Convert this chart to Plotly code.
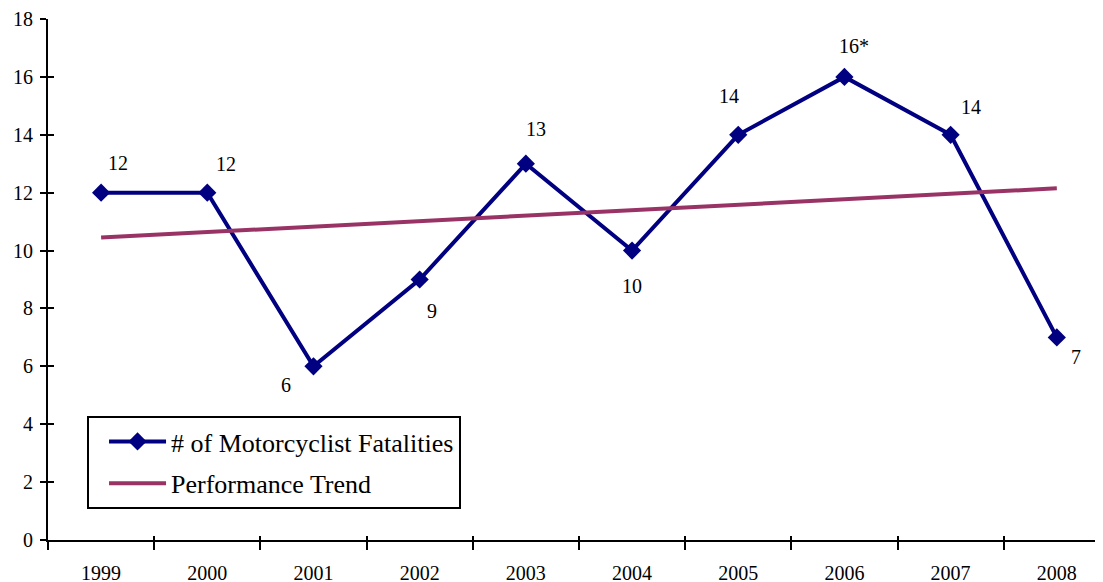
import plotly.graph_objects as go

years = ["1999", "2000", "2001", "2002", "2003", "2004", "2005", "2006", "2007", "2008"]
fatalities = [12, 12, 6, 9, 13, 10, 14, 16, 14, 7]
point_labels = ["12", "12", "6", "9", "13", "10", "14", "16*", "14", "7"]
trend_years = ["1999", "2008"]
trend_values = [10.45, 12.15]
y_ticks = [0, 2, 4, 6, 8, 10, 12, 14, 16, 18]

# label offsets in pixels (style only)
label_dx = [17, 19, -27, 12, 10, 0, -9, 10, 20, 19]
label_dy = [-30, -29, 19, 31, -35, 35, -39, -31, -28, 20]

FONT = "Liberation Serif, serif"
NAVY = "#000080"
PLUM = "#993366"

fig = go.Figure()
fig.add_trace(go.Scatter(
    x=years, y=fatalities, mode="lines+markers",
    name="# of Motorcyclist Fatalities",
    line=dict(color=NAVY, width=4),
    marker=dict(symbol="diamond", size=14, color=NAVY),
    legendgroup="a", cliponaxis=False,
))
fig.add_trace(go.Scatter(
    x=trend_years, y=trend_values, mode="lines",
    name="Performance Trend",
    line=dict(color=PLUM, width=4),
    legendgroup="b",
))
# invisible trace for the overlay axes (inside half of the crossing ticks)
fig.add_trace(go.Scatter(
    x=years, y=fatalities, xaxis="x2", yaxis="y2", mode="markers",
    marker=dict(opacity=0), showlegend=False, hoverinfo="skip",
))

for i, (v, t, dx, dy) in enumerate(zip(fatalities, point_labels, label_dx, label_dy)):
    fig.add_annotation(x=i, y=v, xref="x", yref="y", text=t, showarrow=False,
                       xshift=dx, yshift=-dy,
                       font=dict(family=FONT, size=20, color="black"))

xr = [-0.5, 9.435]
fig.update_layout(
    width=1103, height=582,
    margin=dict(l=40, r=8, t=11, b=50, autoexpand=False),
    paper_bgcolor="white", plot_bgcolor="white",
    font=dict(family=FONT, size=20, color="black"),
    showlegend=True,
    legend=dict(
        x=0.037, y=0.238, xanchor="left", yanchor="top",
        bordercolor="black", borderwidth=2, bgcolor="white",
        font=dict(family=FONT, size=26),
        traceorder="grouped", tracegroupgap=5,
        itemwidth=57, indentation=15,
    ),
    xaxis=dict(
        type="category", categoryorder="array", categoryarray=years,
        range=xr, showgrid=False, zeroline=False, automargin=False,
        showline=True, linecolor="black", linewidth=2,
        ticks="outside", ticklen=8, tickwidth=2, tickcolor="black",
        tickson="boundaries", tickfont=dict(size=20), ticklabelstandoff=14,
    ),
    yaxis=dict(
        range=[0, 18], tickvals=y_ticks, showgrid=False, zeroline=False,
        automargin=False,
        showline=True, linecolor="black", linewidth=2,
        ticks="outside", ticklen=6, tickwidth=2, tickcolor="black",
        tickfont=dict(size=20), ticklabelstandoff=3,
    ),
    xaxis2=dict(
        type="category", categoryorder="array", categoryarray=years,
        range=xr, overlaying="x", showgrid=False, automargin=False,
        zeroline=False, showline=False, showticklabels=False,
        ticks="inside", ticklen=4, tickwidth=2, tickcolor="black",
        tickson="boundaries", side="bottom",
    ),
    yaxis2=dict(
        range=[0, 18], tickvals=y_ticks, overlaying="y", showgrid=False,
        automargin=False,
        zeroline=False, showline=False, showticklabels=False,
        ticks="inside", ticklen=6, tickwidth=2, tickcolor="black", side="left",
    ),
)

fig.write_html("out.html")
